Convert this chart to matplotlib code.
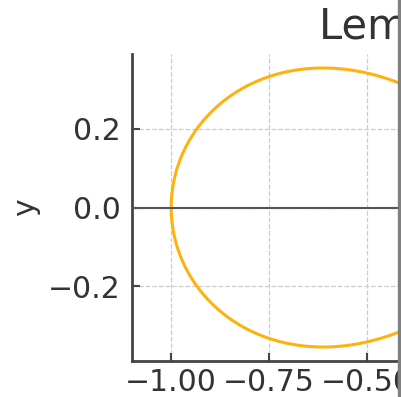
import numpy as np
import matplotlib
matplotlib.use("Agg")
import matplotlib.pyplot as plt
from matplotlib.patches import Rectangle

# lemniscate of Bernoulli, a = 1 (parameter values, curve computed by the formula of the curve)
a = 1.0
t = np.linspace(0, 2 * np.pi, 1000)
x_vals = a * np.cos(t) / (1 + np.sin(t) ** 2)
y_vals = a * np.sin(t) * np.cos(t) / (1 + np.sin(t) ** 2)

title = "Lemniscate of Bernoulli"
x_ticks = [-1.00, -0.75, -0.50, -0.25, 0.00, 0.25, 0.50, 0.75, 1.00]
y_ticks = [-0.2, 0.0, 0.2]

W, H = 401, 397
fig = plt.figure(figsize=(W / 100, H / 100), dpi=100)
# axes extends past the right edge (reference is a crop)
ax = fig.add_axes([132 / W, 36 / H, 862 / W, 307 / H])

ax.plot(x_vals, y_vals, color="#FFB20F", lw=2.2, zorder=2)
ax.axhline(0, color="#555555", lw=1.5, zorder=3)
ax.set_xlim(-1.1, 1.1)
ax.set_ylim(-0.389, 0.389)
ax.set_xticks(x_ticks)
ax.set_yticks(y_ticks)
ax.set_xticklabels([f"{v:.2f}".replace("-", "\u2212") for v in x_ticks])
ax.set_yticklabels([f"{v:.1f}".replace("-", "\u2212") for v in y_ticks])
ax.grid(True, ls="--", color="#cccccc", lw=0.9)
for s in ["top", "right"]:
    ax.spines[s].set_visible(False)
for s in ["left", "bottom"]:
    ax.spines[s].set_color("#444444")
    ax.spines[s].set_linewidth(2)
ax.tick_params(direction="in", length=6, width=1.5, colors="#444444",
               labelsize=21.5, labelcolor="#333333")
ax.tick_params(axis="x", pad=5)
ax.tick_params(axis="y", pad=8)
ax.set_ylabel("y", fontsize=21.5, color="#333333", labelpad=6)
ax.set_title(title, fontsize=30, color="#333333", pad=11)

fig.patches.append(Rectangle((398 / W, 0), 3 / W, 1, transform=fig.transFigure,
                             color="#808080", zorder=10))

fig.savefig("out.png", dpi=100)
